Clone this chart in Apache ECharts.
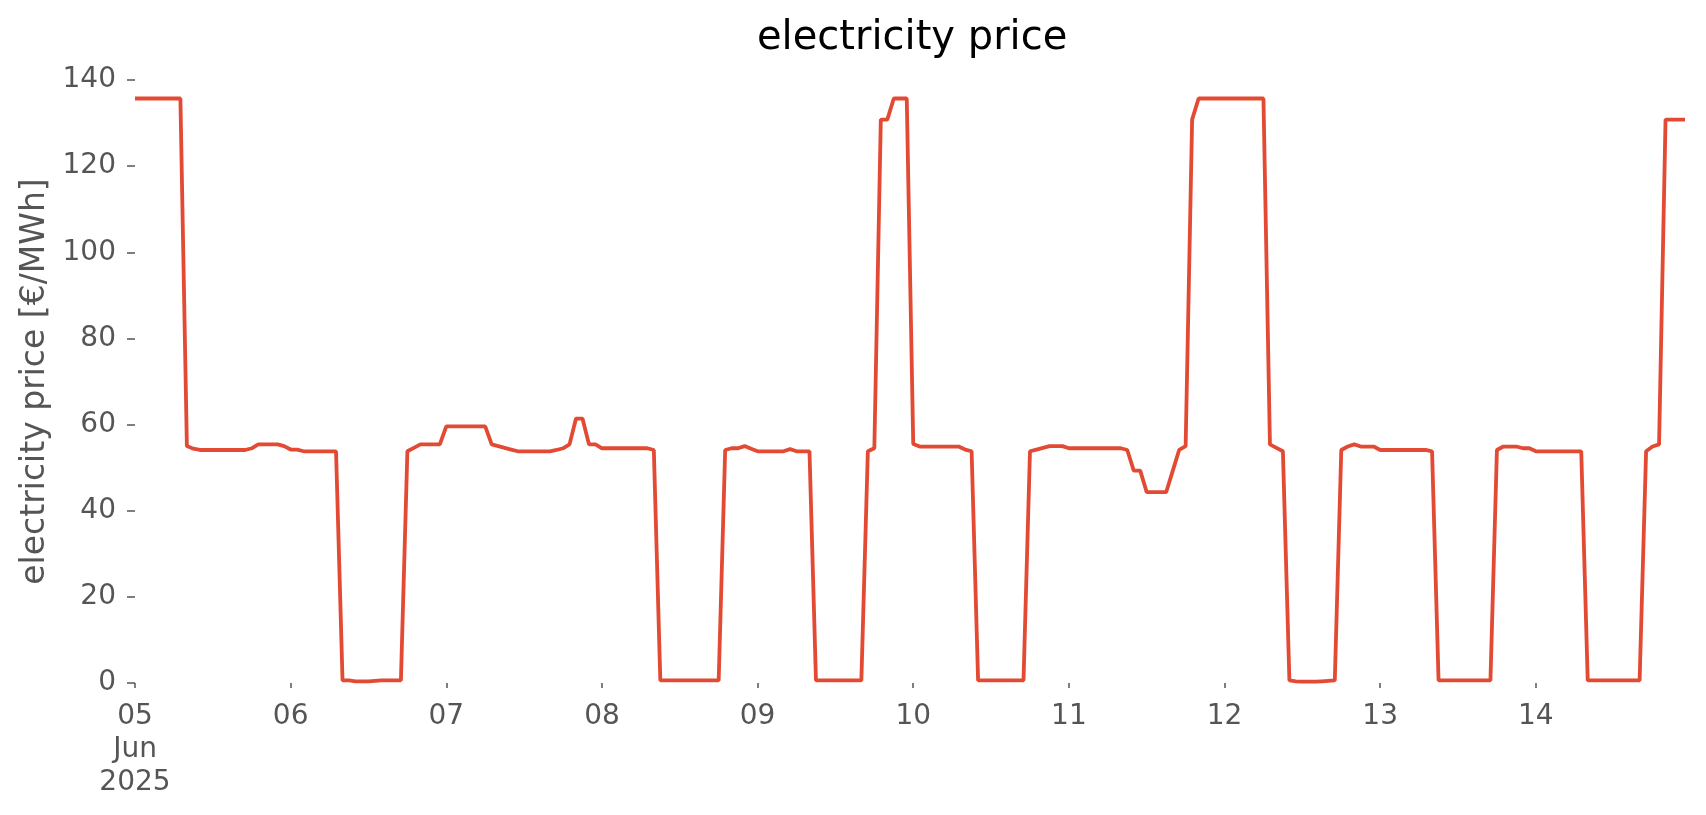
<!DOCTYPE html>
<html>
<head>
<meta charset="utf-8">
<script src="https://cdn.jsdelivr.net/npm/echarts@6/dist/echarts.min.js"></script>
<style>
  html, body { margin: 0; padding: 0; background: #ffffff; }
  #chart { width: 1706px; height: 815px; }
</style>
</head>
<body>
<div id="chart"></div>
<script>
// Hourly electricity price [€/MWh], 05 Jun 2025 00:00 .. 14 Jun 2025 23:00
const dayLabels = ['05\nJun\n2025', '06', '07', '08', '09', '10', '11', '12', '13', '14'];
const yTicks = [0, 20, 40, 60, 80, 100, 120, 140];

const jun05 = [135.7,135.7,135.7,135.7,135.7,135.7,135.7,135.7, 55.0,54.4, 54.1,54.1,54.1,54.1,54.1,54.1,54.1,54.1, 54.5, 55.4,55.4,55.4,55.4, 55.0];
const jun06 = [54.2,54.2, 53.8,53.8,53.8,53.8,53.8,53.8, 0.6,0.6,0.4,0.4,0.4,0.5,0.6,0.6,0.6,0.6, 53.8, 54.6, 55.4,55.4,55.4,55.4];
const jun07 = [59.6,59.6,59.6,59.6,59.6,59.6,59.6, 55.4,55.0,54.6,54.2, 53.8,53.8,53.8,53.8,53.8,53.8, 54.1,54.5,55.4, 61.4,61.4, 55.4,55.4];
const jun08 = [54.5,54.5,54.5,54.5,54.5,54.5,54.5,54.5, 54.1, 0.6,0.6,0.6,0.6,0.6,0.6,0.6,0.6,0.6,0.6, 54.1,54.5,54.5,55.0,54.4];
const jun09 = [53.8,53.8,53.8,53.8,53.8, 54.3, 53.8,53.8,53.8, 0.6,0.6,0.6,0.6,0.6,0.6,0.6,0.6, 53.8,54.5, 130.8,130.8, 135.7,135.7,135.7];
const jun10 = [55.5, 54.9,54.9,54.9,54.9,54.9,54.9,54.9, 54.2,53.8, 0.6,0.6,0.6,0.6,0.6,0.6,0.6,0.6, 53.8,54.2,54.6, 55.0,55.0,55.0];
const jun11 = [54.5,54.5,54.5,54.5,54.5,54.5,54.5,54.5,54.5, 54.1, 49.3,49.3, 44.3,44.3,44.3,44.3, 49.2, 54.1,55.0, 130.8, 135.7,135.7,135.7,135.7];
const jun12 = [135.7,135.7,135.7,135.7,135.7,135.7,135.7, 55.4,54.6,53.8, 0.6,0.4,0.3,0.3,0.3,0.4,0.5,0.6, 54.1,54.9,55.4,54.9,54.9,54.9];
const jun13 = [54.1,54.1,54.1,54.1,54.1,54.1,54.1,54.1, 53.8, 0.6,0.6,0.6,0.6,0.6,0.6,0.6,0.6,0.6, 54.1, 54.9,54.9,54.9, 54.5,54.5];
const jun14 = [53.8,53.8,53.8,53.8,53.8,53.8,53.8,53.8, 0.6,0.6,0.6,0.6,0.6,0.6,0.6,0.6,0.6, 53.8,54.9,55.4, 130.8,130.8,130.8,130.8];

const prices = [].concat(jun05, jun06, jun07, jun08, jun09, jun10, jun11, jun12, jun13, jun14);
const seriesData = prices.map((v, i) => [i, v]);

const FONT = 'DejaVu Sans';
const chart = echarts.init(document.getElementById('chart'), null, { renderer: 'canvas' });
chart.setOption({
  animation: false,
  backgroundColor: '#ffffff',
  title: {
    text: 'electricity price',
    left: 757,
    top: 19,
    padding: 0,
    textStyle: { fontFamily: FONT, fontSize: 40, fontWeight: 'normal', color: '#000000' }
  },
  grid: { left: 135, right: 21, top: 80, bottom: 132, containLabel: false },
  xAxis: {
    type: 'value',
    min: 0,
    max: prices.length - 1,
    interval: 24,
    offset: 5,
    axisLine: { show: false },
    axisTick: { show: true, length: 5, lineStyle: { color: '#555555', width: 1.5 } },
    splitLine: { show: false },
    axisLabel: {
      show: true,
      margin: 12,
      fontFamily: FONT,
      fontSize: 28,
      lineHeight: 33,
      color: '#555555',
      showMaxLabel: false,
      formatter: function (v) {
        if (v % 24 !== 0) return '';
        const d = v / 24;
        return dayLabels[d] !== undefined ? dayLabels[d] : '';
      }
    }
  },
  yAxis: {
    type: 'value',
    min: yTicks[0],
    max: yTicks[yTicks.length - 1],
    interval: 20,
    name: 'electricity price [€/MWh]',
    nameLocation: 'middle',
    nameGap: 82,
    nameTextStyle: { fontFamily: FONT, fontSize: 33, color: '#555555' },
    axisLine: { show: false },
    axisTick: { show: true, length: 8, lineStyle: { color: '#555555', width: 1.5 } },
    splitLine: { show: false },
    axisLabel: { margin: 19, fontFamily: FONT, fontSize: 28, color: '#555555' }
  },
  series: [{
    type: 'line',
    data: seriesData,
    showSymbol: false,
    symbol: 'none',
    lineStyle: { color: '#E24A33', width: 3.8 },
    itemStyle: { color: '#E24A33' }
  }]
});
</script>
</body>
</html>
